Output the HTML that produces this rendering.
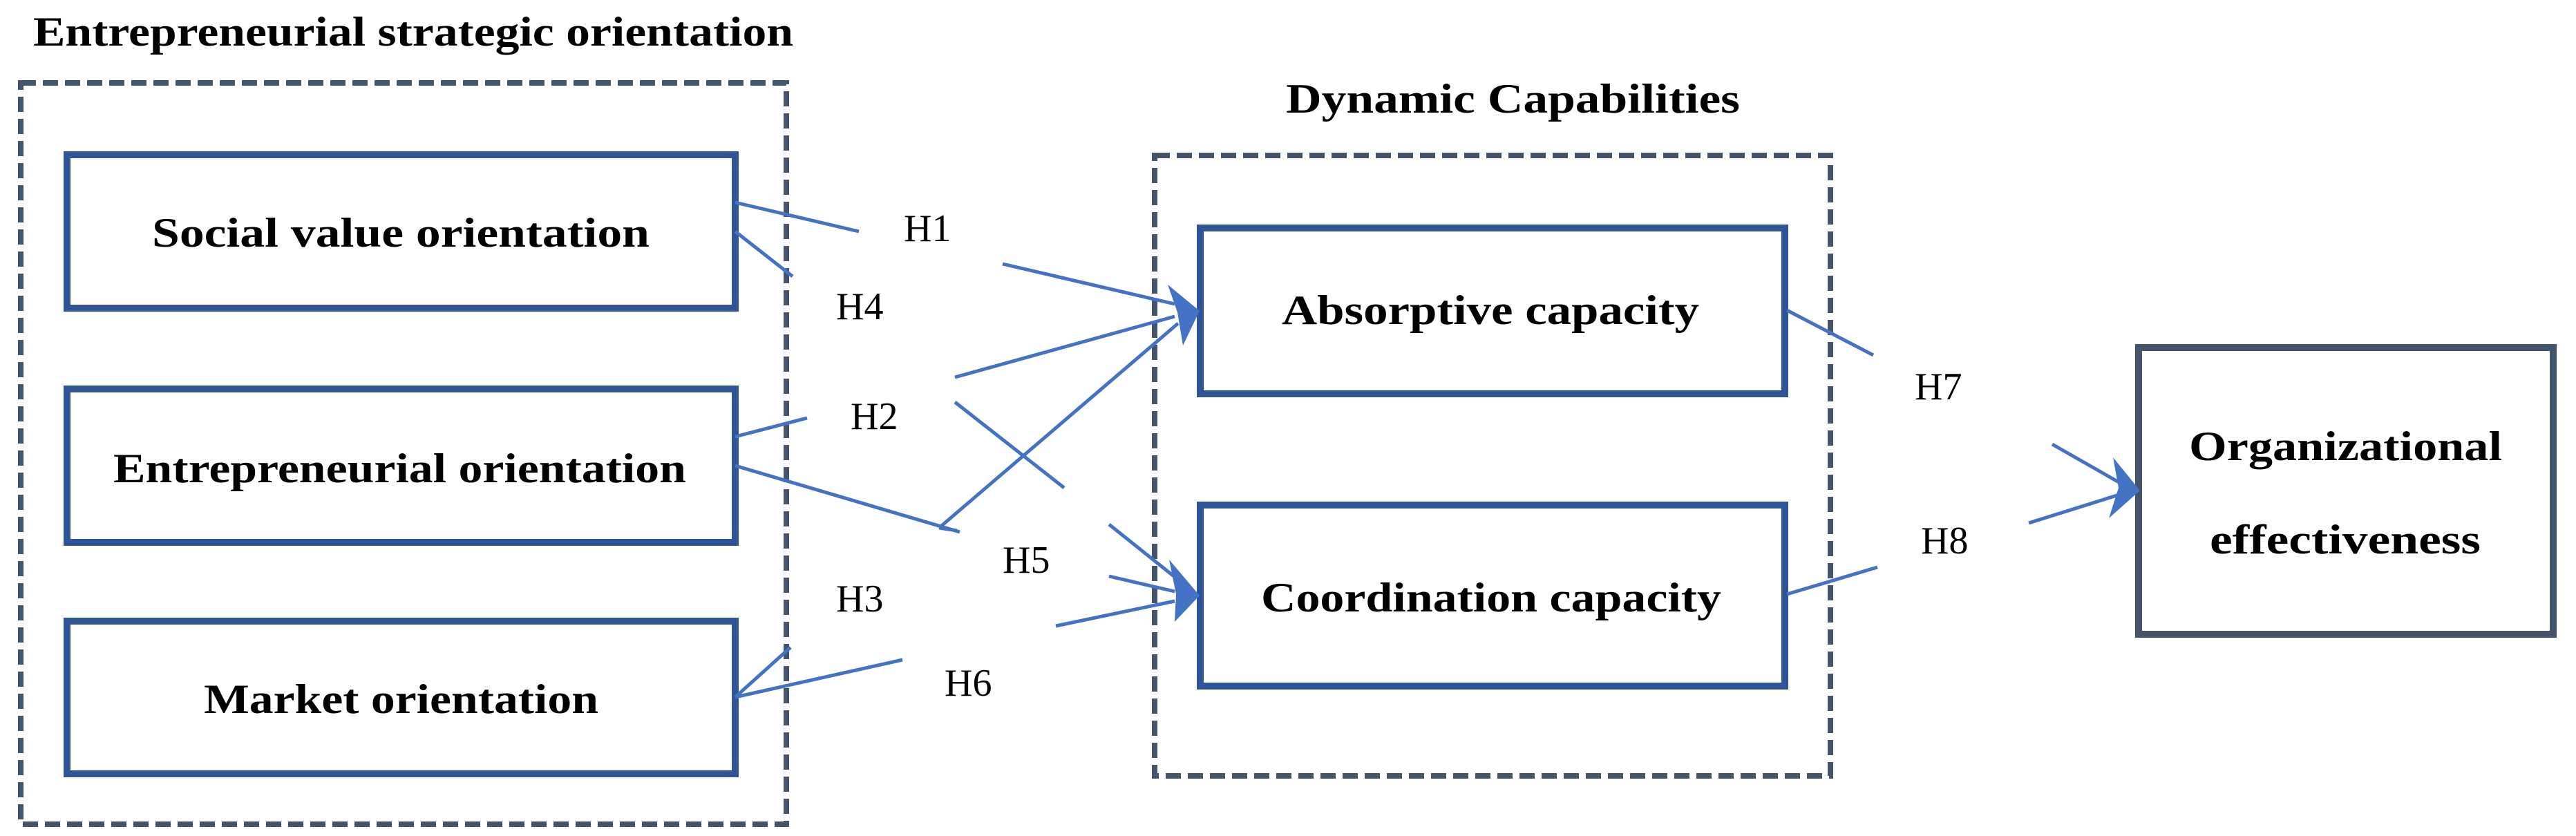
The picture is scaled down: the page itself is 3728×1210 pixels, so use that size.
<!DOCTYPE html>
<html><head><meta charset="utf-8"><style>html,body{margin:0;padding:0;background:#fff}svg{display:block}</style></head>
<body>
<svg width="3728" height="1210" viewBox="0 0 3728 1210" xmlns="http://www.w3.org/2000/svg">
<g font-family="'Liberation Serif', serif" fill="#000">
<text x="48" y="66" font-size="60" font-weight="bold" textLength="1100" lengthAdjust="spacingAndGlyphs">Entrepreneurial strategic orientation</text>
<text x="1861" y="163" font-size="60" font-weight="bold" textLength="657" lengthAdjust="spacingAndGlyphs">Dynamic Capabilities</text>
</g>
<g fill="none" stroke="#44546a" stroke-width="8" stroke-dasharray="22,10">
<rect x="30" y="120" width="1108" height="1073"/>
<rect x="1671" y="225" width="978" height="898"/>
</g>
<g fill="#fff" stroke="#2f5597" stroke-width="10">
<rect x="97" y="224" width="967" height="222"/>
<rect x="97" y="563" width="967" height="222"/>
<rect x="97" y="899" width="967" height="221"/>
<rect x="1737" y="330" width="846" height="240"/>
<rect x="1737" y="731" width="846" height="262"/>
</g>
<rect x="3095" y="503" width="600" height="415" fill="#fff" stroke="#44546a" stroke-width="10"/>
<g font-family="'Liberation Serif', serif" font-weight="bold" font-size="60" fill="#000">
<text x="220" y="357" textLength="720" lengthAdjust="spacingAndGlyphs">Social value orientation</text>
<text x="164" y="698" textLength="829" lengthAdjust="spacingAndGlyphs">Entrepreneurial orientation</text>
<text x="295" y="1032" textLength="571" lengthAdjust="spacingAndGlyphs">Market orientation</text>
<text x="1855" y="469" textLength="604" lengthAdjust="spacingAndGlyphs">Absorptive capacity</text>
<text x="1825" y="885" textLength="666" lengthAdjust="spacingAndGlyphs">Coordination capacity</text>
<text x="3168" y="666" textLength="453" lengthAdjust="spacingAndGlyphs">Organizational</text>
<text x="3198" y="801" textLength="392" lengthAdjust="spacingAndGlyphs">effectiveness</text>
</g>
<g font-family="'Liberation Serif', serif" font-size="56" fill="#000">
<text x="1308" y="349">H1</text>
<text x="1210" y="462">H4</text>
<text x="1231" y="621">H2</text>
<text x="1451" y="829">H5</text>
<text x="1210" y="885">H3</text>
<text x="1367" y="1007">H6</text>
<text x="2771" y="578">H7</text>
<text x="2780" y="801">H8</text>
</g>
<g stroke="#4472c4" stroke-width="5" fill="none">
<line x1="1064" y1="293" x2="1243" y2="335"/>
<line x1="1451" y1="382" x2="1700" y2="440"/>
<line x1="1064" y1="335" x2="1147" y2="400"/>
<line x1="1382" y1="582" x2="1540" y2="706"/>
<line x1="1605" y1="759" x2="1700" y2="835"/>
<line x1="1064" y1="632" x2="1168" y2="605"/>
<line x1="1382" y1="546" x2="1700" y2="458"/>
<line x1="1064" y1="674" x2="1389" y2="770"/>
<line x1="1605" y1="834" x2="1700" y2="856"/>
<line x1="1064" y1="1009" x2="1144" y2="937"/>
<line x1="1359" y1="764" x2="1705" y2="468"/>
<line x1="1359" y1="764" x2="1385" y2="768"/>
<line x1="1064" y1="1009" x2="1306" y2="955"/>
<line x1="1528" y1="906" x2="1700" y2="870"/>
<line x1="2586" y1="449" x2="2711" y2="514"/>
<line x1="2970" y1="643" x2="3070" y2="700"/>
<line x1="2586" y1="860" x2="2717" y2="821"/>
<line x1="2936" y1="757" x2="3070" y2="715"/>
</g>
<g fill="#4472c4">
<polygon points="1736,450 1690,412 1704,452 1712,500"/>
<polygon points="1736,862 1692,810 1702,860 1700,900"/>
<polygon points="3097,710 3058,662 3066,706 3052,750"/>
</g>
</svg>
</body></html>
